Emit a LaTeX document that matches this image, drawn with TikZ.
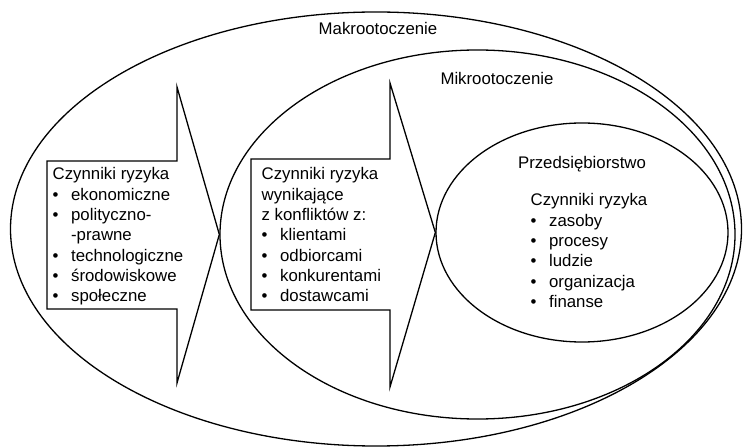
\documentclass[tikz,border=0pt]{standalone}
\usepackage{fontspec}
\setmainfont{Liberation Sans}
\usetikzlibrary{shapes.geometric, positioning}

\newcommand{\pkt}{\makebox[18.5bp][l]{\textbullet}}

\begin{document}
\begin{tikzpicture}[
        x=1bp, y=-1bp,
        line width=1.3bp,
        every node/.style={font=\fontsize{16.8bp}{20.3bp}\selectfont, inner sep=0pt},
        region/.style={draw, ellipse},
        factors/.style={align=left, anchor=north west},
        label/.style={anchor=base}
        ]

        \useasboundingbox (0,0) rectangle (743,448);

        % Environments
        \node[region, minimum width=731bp, minimum height=434bp] (makro) at (376,229) {};
        \node[region, minimum width=515bp, minimum height=369bp] (mikro) at (477.5,234.5) {};
        \node[region, minimum width=292bp, minimum height=219bp] (firma) at (582,232.5) {};

        % Arrows
        \draw (47,161) -- (177,161) -- (177,87) -- (mikro.west) -- (177,383) -- (177,309) -- (47,309) -- cycle;
        \draw (251,159) -- (390,159) -- (390,83) -- (firma.west) -- (390,387) -- (390,310) -- (251,310) -- cycle;

        % Labels
        \node[label] (makroLabel) at (378,35) {Makrootoczenie};
        \node[label] (mikroLabel) at (497,85) {Mikrootoczenie};
        \node[label] (firmaLabel) at (582,169) {Przedsiębiorstwo};

        % Risk factors
        \node[factors] (makroRisk) at (52,167) {Czynniki ryzyka \\ \pkt ekonomiczne \\ \pkt polityczno- \\
                \hspace*{18.5bp}-prawne \\ \pkt technologiczne \\ \pkt środowiskowe \\ \pkt społeczne};
        \node[factors] (mikroRisk) at (261,167) {Czynniki ryzyka \\ wynikające \\ z konfliktów z: \\
                \pkt klientami \\ \pkt odbiorcami \\ \pkt konkurentami \\ \pkt dostawcami};
        \node[factors] (firmaRisk) at (530,193) {Czynniki ryzyka \\ \pkt zasoby \\ \pkt procesy \\
                \pkt ludzie \\ \pkt organizacja \\ \pkt finanse};
    \end{tikzpicture}
\end{document}
